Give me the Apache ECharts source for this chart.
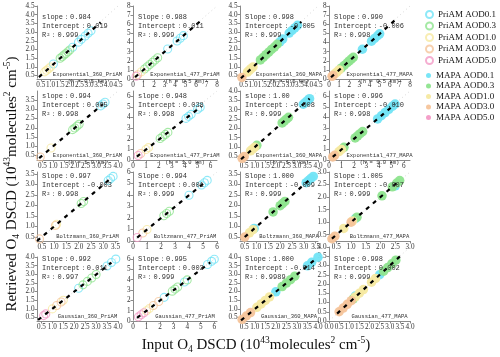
<!DOCTYPE html>
<html><head><meta charset="utf-8">
<script src="https://cdn.jsdelivr.net/npm/echarts@6/dist/echarts.min.js"></script>
<style>html,body{margin:0;padding:0;background:#fff}#c{width:500px;height:357px}</style>
</head><body><div id="c"></div>
<script>
// ---------- data ----------
const aodNames = ['AOD0.1', 'AOD0.3', 'AOD1.0', 'AOD3.0', 'AOD5.0'];
const methodNames = ['PriAM', 'MAPA'];
const panelNames = [
  'Exponential_360_PriAM', 'Exponential_477_PriAM', 'Exponential_360_MAPA', 'Exponential_477_MAPA',
  'Exponential_360_PriAM', 'Exponential_477_PriAM', 'Exponential_360_MAPA', 'Exponential_477_MAPA',
  'Boltzmann_360_PriAM', 'Boltzmann_477_PriAM', 'Boltzmann_360_MAPA', 'Boltzmann_477_MAPA',
  'Gaussian_360_PriAM', 'Gaussian_477_PriAM', 'Gaussian_360_MAPA', 'Gaussian_477_MAPA'
];
const heightNotes = ['(h = 0.5 km)', '(h = 0.5 km)', '(h = 0.5 km)', '(h = 0.5 km)',
  '(h = 1.0 km)', '(h = 1.0 km)', '(h = 1.0 km)', '(h = 1.0 km)',
  '', '', '', '', '', '', '', ''];
const slopeLabels = ['slope', 'Slope', 'Slope', 'Slope', 'slope', 'slope', 'slope', 'slope',
  'Slope', 'Slope', 'Slope', 'Slope', 'Slope', 'Slope', 'Slope', 'Slope'];
const slopes = ['0.984', '0.988', '0.998', '0.990', '0.994', '0.948', '1.00', '0.996',
  '0.997', '0.994', '1.000', '1.005', '0.992', '0.995', '1.000', '0.998'];
const intercepts = ['0.019', '0.011', '-0.005', '-0.006', '0.005', '0.038', '-0.008', '-0.010',
  '-0.003', '0.001', '-0.009', '-0.007', '0.011', '0.003', '-0.014', '0.002'];
const r2s = ['0.999', '0.999', '0.999', '0.998', '0.998', '0.998', '0.999', '0.998',
  '0.998', '0.999', '0.999', '0.999', '0.997', '0.999', '0.9989', '0.999'];
// axis range [min, max] per panel (same for x and y)
const axisRanges = [
  [0.3, 4.5], [0, 8], [0.3, 4.5], [0, 8],
  [0.25, 4.0], [0, 6.5], [0.3, 4.0], [0, 6.5],
  [0.3, 3.6], [0, 6], [0.3, 3.6], [0.25, 3.0],
  [0.3, 4.0], [0, 6.2], [0.3, 4.0], [0, 4.0]
];
const ticksHalf45 = [0.5, 1.0, 1.5, 2.0, 2.5, 3.0, 3.5, 4.0, 4.5];
const ticksHalf40 = [0.5, 1.0, 1.5, 2.0, 2.5, 3.0, 3.5, 4.0];
const ticksHalf35 = [0.5, 1.0, 1.5, 2.0, 2.5, 3.0, 3.5];
const ticksHalf30 = [0.5, 1.0, 1.5, 2.0, 2.5, 3.0];
const ticksZero40 = [0.0, 0.5, 1.0, 1.5, 2.0, 2.5, 3.0, 3.5, 4.0];
const ticksInt8 = [0, 1, 2, 3, 4, 5, 6, 7, 8];
const ticksInt6 = [0, 1, 2, 3, 4, 5, 6];
const xTicks = [ticksHalf45, ticksInt8, ticksHalf45, ticksInt8,
  ticksHalf40, ticksInt6, ticksHalf40, ticksInt6,
  ticksHalf35, ticksInt6, ticksHalf35, ticksHalf30,
  ticksHalf40, ticksInt6, ticksHalf40, ticksZero40];
const yTicks = [ticksHalf45, ticksInt8, ticksHalf45, ticksInt8,
  ticksHalf35, ticksInt6, ticksHalf40, ticksInt6,
  ticksHalf35, ticksInt6, ticksHalf35, ticksHalf30,
  ticksHalf40, ticksInt6, ticksHalf40, ticksZero40];
// extent of the black dashed fit line per panel
const fitLines = [
  [[0.4, 0.41], [3.6, 3.56]], [[0.2, 0.21], [6.7, 6.63]], [[0.35, 0.34], [3.6, 3.59]], [[0.2, 0.19], [6.6, 6.53]],
  [[0.35, 0.35], [3.3, 3.29]], [[0.3, 0.32], [5.3, 5.06]], [[0.35, 0.34], [3.6, 3.59]], [[0.3, 0.29], [5.3, 5.27]],
  [[0.3, 0.3], [3.3, 3.29]], [[0.3, 0.3], [5.0, 4.97]], [[0.5, 0.49], [3.3, 3.29]], [[0.35, 0.345], [2.55, 2.56]],
  [[0.35, 0.36], [3.7, 3.68]], [[0.3, 0.3], [5.7, 5.67]], [[0.35, 0.34], [3.9, 3.89]], [[0.4, 0.4], [3.5, 3.49]]
];
// each panel: [AOD0.1, AOD0.3, AOD1.0, AOD3.0, AOD5.0] point lists [x, y]
const r1c1 = [
  [[1.15, 1.16], [2.15, 2.13], [2.45, 2.42], [2.6, 2.58], [2.8, 2.77], [2.95, 2.93], [3.1, 3.07]],
  [[1.5, 1.49], [1.6, 1.58], [1.7, 1.68], [1.8, 1.77], [1.9, 1.87], [2.0, 1.97]],
  [[0.7, 0.71], [0.8, 0.8], [0.9, 0.89], [1.0, 0.99]],
  [], []
];
const r1c2 = [
  [[3.3, 3.28], [4.2, 4.17], [4.5, 4.46], [4.8, 4.75]],
  [[1.1, 1.1], [1.35, 1.34], [1.6, 1.59], [1.85, 1.83], [2.1, 2.09], [2.35, 2.33]],
  [[0.8, 0.8]],
  [[0.45, 0.46]],
  [[0.3, 0.3]]
];
const r1c3 = [
  [[2.45, 2.44], [2.6, 2.6], [2.95, 2.94], [3.1, 3.09], [3.25, 3.24], [3.4, 3.39]],
  [[1.4, 1.4], [1.55, 1.54], [1.7, 1.7], [1.85, 1.84], [2.0, 2.0], [2.15, 2.14], [2.3, 2.3]],
  [[0.7, 0.7], [0.8, 0.8], [0.9, 0.9], [1.0, 0.99]],
  [[0.4, 0.39]],
  []
];
const r1c4 = [
  [[3.3, 3.26], [4.2, 4.15], [4.5, 4.45], [4.8, 4.74], [5.0, 4.95]],
  [[1.2, 1.19], [1.5, 1.48], [1.8, 1.78], [2.0, 1.98], [2.2, 2.18], [2.4, 2.37]],
  [[0.6, 0.59], [0.8, 0.79], [1.0, 0.99]],
  [[0.3, 0.29], [0.4, 0.39]],
  []
];
const r2c1 = [
  [[3.2, 3.19], [3.3, 3.29], [3.4, 3.39]],
  [[1.9, 1.9], [2.0, 1.99], [2.1, 2.09], [2.2, 2.19]],
  [[0.9, 0.9]],
  [[0.4, 0.41]],
  []
];
const r2c2 = [
  [[4.1, 3.92], [4.3, 4.11], [4.5, 4.3], [5.0, 4.78], [5.2, 4.97]],
  [[2.1, 2.03], [2.3, 2.22], [2.5, 2.41], [2.7, 2.6]],
  [[1.0, 0.99], [1.2, 1.17]],
  [[0.6, 0.61]],
  [[0.4, 0.42]]
];
const r2c3 = [
  [[3.3, 3.29], [3.4, 3.39], [3.5, 3.49], [3.6, 3.59]],
  [[1.1, 1.09], [2.3, 2.29], [2.4, 2.39], [2.5, 2.49], [2.6, 2.59]],
  [[0.8, 0.79], [0.9, 0.89], [1.0, 0.99]],
  [[0.4, 0.39], [0.5, 0.49]],
  []
];
const r2c4 = [
  [[3.9, 3.87], [4.2, 4.17], [4.5, 4.47], [4.8, 4.77], [5.1, 5.07], [5.3, 5.27]],
  [[1.2, 1.19], [2.1, 2.08], [2.3, 2.28], [2.5, 2.48], [2.7, 2.68]],
  [[0.8, 0.79], [1.0, 0.99]],
  [[0.3, 0.29], [0.45, 0.44]],
  []
];
const r3c1 = [
  [[3.2, 3.19], [3.3, 3.29], [3.4, 3.39]],
  [[2.1, 2.09], [2.2, 2.19]],
  [[1.1, 1.1]],
  [[0.4, 0.4], [1.05, 1.04]],
  []
];
const r3c2 = [
  [[4.0, 3.98], [4.9, 4.87], [5.1, 5.07], [5.3, 5.27]],
  [[2.2, 2.19], [2.4, 2.39], [2.6, 2.59]],
  [[1.0, 1.0]],
  [[0.7, 0.7]],
  [[0.3, 0.3]]
];
const r3c3 = [
  [[0.9, 0.9], [3.1, 3.09], [3.2, 3.19], [3.3, 3.29], [3.4, 3.39]],
  [[1.7, 1.69], [2.0, 1.99], [2.1, 2.09], [2.2, 2.19]],
  [[0.7, 0.69], [0.85, 0.84]],
  [[0.5, 0.49]],
  []
];
const r3c4 = [
  [[1.15, 1.15], [2.5, 2.45]],
  [[1.2, 1.2], [2.05, 2.05], [2.4, 2.41], [2.55, 2.56], [2.65, 2.66]],
  [[0.75, 0.75], [1.05, 1.05]],
  [[0.35, 0.34], [0.45, 0.44], [1.0, 1.0]],
  []
];
const r4c1 = [
  [[2.2, 2.19], [3.5, 3.48], [3.7, 3.68], [3.9, 3.88]],
  [[2.4, 2.39], [2.6, 2.59], [2.8, 2.79], [3.0, 2.99]],
  [[1.0, 1.0], [1.5, 1.5]],
  [[1.2, 1.2], [1.4, 1.4]],
  [[0.6, 0.61], [0.7, 0.71]]
];
const r4c2 = [
  [[2.3, 2.29], [3.8, 3.78], [5.5, 5.48], [5.8, 5.78], [6.0, 5.98]],
  [[2.9, 2.89], [3.1, 3.09], [3.3, 3.29], [4.0, 3.98]],
  [[1.0, 1.0], [1.2, 1.2]],
  [[1.5, 1.5], [1.9, 1.89]],
  [[0.4, 0.4], [0.6, 0.6], [0.8, 0.8]]
];
const r4c3 = [
  [[2.0, 1.99], [3.5, 3.49], [3.7, 3.69], [4.0, 3.99]],
  [[2.3, 2.29], [2.5, 2.49], [2.7, 2.69], [2.9, 2.89]],
  [[1.1, 1.09], [1.3, 1.29], [1.5, 1.49], [1.7, 1.69]],
  [[0.4, 0.39], [0.6, 0.59], [0.8, 0.79]],
  []
];
const r4c4 = [
  [[1.3, 1.35], [2.5, 2.5]],
  [[1.2, 1.2], [2.7, 2.69], [2.9, 2.89], [3.1, 3.09], [3.3, 3.29]],
  [[1.3, 1.3], [1.5, 1.5], [1.7, 1.7], [2.1, 2.1], [2.3, 2.3]],
  [[0.5, 0.5], [0.7, 0.7], [0.9, 0.9], [1.1, 1.1]],
  []
];
const panelData = [r1c1, r1c2, r1c3, r1c4, r2c1, r2c2, r2c3, r2c4,
  r3c1, r3c2, r3c3, r3c4, r4c1, r4c2, r4c3, r4c4];

// ---------- style / layout ----------
const aodColors = ['#72e4f6', '#8ee48e', '#f6e9a0', '#f5c49a', '#f39ac6'];
const colLeft = [37, 133, 240, 329], colRight = [118, 217, 318, 410];
const rowTop = [6, 91, 172, 257], rowBottom = [79, 160, 241, 321];
const textTop = [17, 96, 176, 259];
const monoFont = '"Liberation Mono", "DejaVu Sans Mono", monospace';
const serifFont = '"Liberation Serif", "DejaVu Serif", serif';

const grids = [], xAxes = [], yAxes = [], series = [], graphics = [];
for (let i = 0; i < 16; i++) {
  const r = Math.floor(i / 4), c = i % 4;
  const top = (i === 15) ? 247 : rowTop[r];
  const left = colLeft[c], right = colRight[c], bottom = rowBottom[r];
  grids.push({ left: left, top: top, width: right - left, height: bottom - top });
  const isPri = c < 2;
  const dec = (xTicks[i] === ticksInt8 || xTicks[i] === ticksInt6) ? 0 : 1;
  const axisCommon = (ticks) => ({
    gridIndex: i, type: 'value', min: axisRanges[i][0], max: axisRanges[i][1],
    axisLine: { show: true, lineStyle: { color: '#8a8a8a', width: 1 } },
    axisTick: { show: true, length: 2.5, customValues: ticks, lineStyle: { color: '#8a8a8a' } },
    axisLabel: { customValues: ticks, fontSize: 7.2, fontFamily: serifFont, color: '#333',
      formatter: v => v.toFixed(dec), margin: 2.5, hideOverlap: false, interval: 0,
      showMinLabel: true, showMaxLabel: true },
    splitLine: { show: false }
  });
  xAxes.push(axisCommon(xTicks[i]));
  yAxes.push(axisCommon(yTicks[i]));
  // faint 1:1 guide
  series.push({ type: 'line', xAxisIndex: i, yAxisIndex: i, silent: true, symbol: 'none', z: 1,
    data: [[axisRanges[i][0], axisRanges[i][0]], [axisRanges[i][1], axisRanges[i][1]]],
    lineStyle: { color: '#d6d6d6', width: 1, type: [1, 3] } });
  for (let k = 0; k < 5; k++) {
    const col = aodColors[k];
    series.push({
      type: 'scatter', name: (isPri ? methodNames[0] : methodNames[1]) + ' ' + aodNames[k],
      xAxisIndex: i, yAxisIndex: i, data: panelData[i][k], z: 2,
      symbol: 'circle', symbolSize: isPri ? 8 : 9.5,
      itemStyle: isPri ? { color: 'rgba(255,255,255,0)', borderColor: col, borderWidth: 1.1 }
                       : { color: col, opacity: 0.95 }
    });
  }
  series.push({ type: 'line', xAxisIndex: i, yAxisIndex: i, silent: true, symbol: 'none', z: 5,
    data: fitLines[i], lineStyle: { color: '#000', width: 2.2, type: [4, 5] } });

  const ty = textTop[r];
  const tx = left + 5;
  const lines = [slopeLabels[i] + '：' + slopes[i], 'Intercept：' + intercepts[i], 'R²：' + r2s[i]];
  lines.forEach((t, j) => graphics.push({ type: 'text', z: 10,
    style: { text: t, x: tx, y: ty + j * 9, font: '7px ' + monoFont, fill: '#333',
      textAlign: 'left', textVerticalAlign: 'middle' } }));
  const nx = (left + right) / 2 + 10;
  graphics.push({ type: 'text', z: 10, style: { text: panelNames[i], x: nx, y: bottom - 4,
    font: '5.5px ' + monoFont, fill: '#333', textAlign: 'center', textVerticalAlign: 'middle' } });
  if (heightNotes[i]) graphics.push({ type: 'text', z: 10, style: { text: heightNotes[i], x: nx, y: bottom + 3,
    font: '5.5px ' + monoFont, fill: '#333', textAlign: 'center', textVerticalAlign: 'middle' } });
}

const richTitle = {
  a: { fontSize: 15, fontFamily: serifFont, fill: '#111', lineHeight: 19, verticalAlign: 'middle' },
  b: { fontSize: 9.5, fontFamily: serifFont, fill: '#111', lineHeight: 19, verticalAlign: 'bottom' },
  c: { fontSize: 9.5, fontFamily: serifFont, fill: '#111', lineHeight: 19, verticalAlign: 'top' }
};
graphics.push({ type: 'text', z: 10, x: 256, y: 345,
  style: { text: '{a|Input O}{b|4}{a| DSCD (10}{c|43}{a|molecules}{c|2}{a| cm}{c|-5}{a|)}',
    rich: richTitle, textAlign: 'center', textVerticalAlign: 'middle' } });
graphics.push({ type: 'text', z: 10, x: 12, y: 184, rotation: Math.PI / 2,
  style: { text: '{a|Retrieved O}{b|4}{a| DSCD (10}{c|43}{a|molecules}{c|2}{a| cm}{c|-5}{a|)}',
    rich: richTitle, textAlign: 'center', textVerticalAlign: 'middle' } });

const legendText = { fontFamily: serifFont, fontSize: 9, color: '#111' };
const option = {
  animation: false,
  backgroundColor: '#fff',
  grid: grids, xAxis: xAxes, yAxis: yAxes, series: series, graphic: graphics,
  legend: [
    { orient: 'vertical', left: 425, top: 10, itemWidth: 7, itemHeight: 7, itemGap: 2.5, padding: 0,
      data: aodNames.map(a => methodNames[0] + ' ' + a), textStyle: legendText, selectedMode: false },
    { orient: 'vertical', left: 426, top: 71, itemWidth: 5, itemHeight: 5, itemGap: 1.5, padding: 0,
      data: aodNames.map(a => methodNames[1] + ' ' + a), textStyle: legendText, selectedMode: false }
  ]
};
const chart = echarts.init(document.getElementById('c'), null, { renderer: 'canvas' });
chart.setOption(option);
</script></body></html>
